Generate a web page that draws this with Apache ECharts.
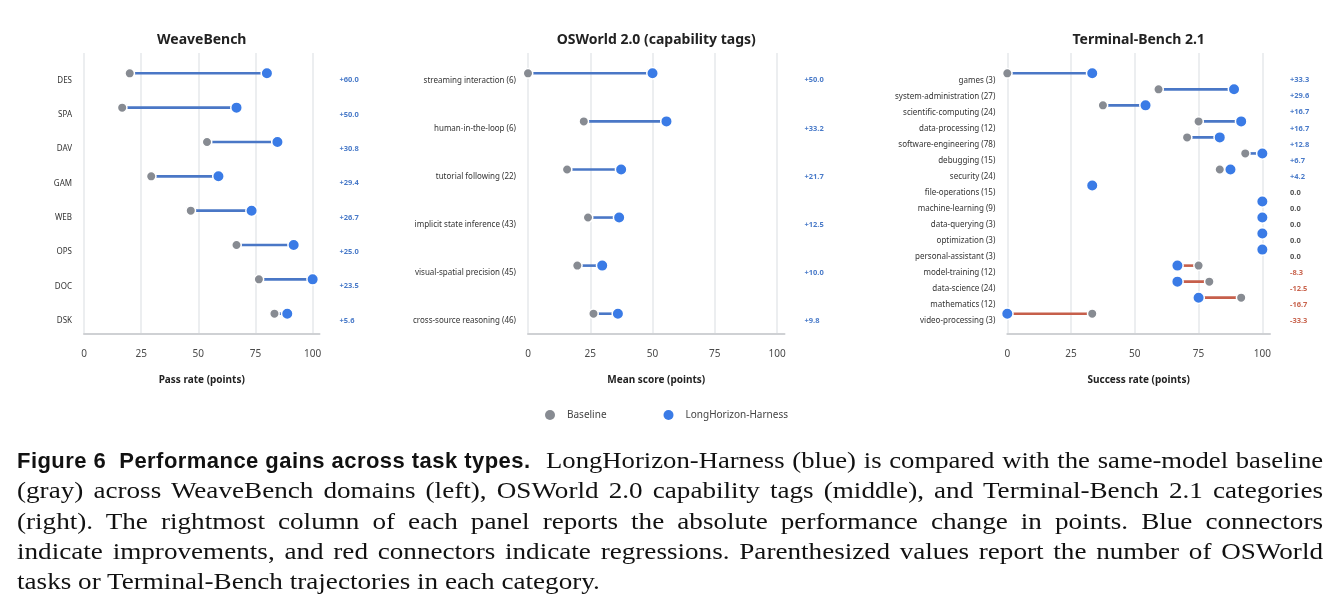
<!DOCTYPE html>
<html><head><meta charset="utf-8">
<script src="https://cdn.jsdelivr.net/npm/echarts@6/dist/echarts.min.js"></script>
<style>
html,body{margin:0;padding:0;background:#fff;}
#chart{position:absolute;left:0;top:0;width:1340px;height:604px;}
.ln{position:absolute;height:30px;line-height:30px;font-family:"Liberation Serif","DejaVu Serif",serif;font-size:23px;color:#111;
  white-space:nowrap;text-align:justify;text-align-last:justify;transform-origin:0 0;transform:scaleX(1.18);}
.ln.first{transform:scaleX(1.16);}
.ln.last{text-align-last:left;}
.bd{position:absolute;height:30px;line-height:30px;font-family:"Liberation Sans","DejaVu Sans",sans-serif;font-weight:bold;font-size:22px;
  letter-spacing:0.45px;color:#111;white-space:nowrap;}
</style></head>
<body><div id="chart"></div>
<div class="bd" style="left:17px;top:446px;">Figure 6&nbsp;&nbsp;Performance gains across task types.</div>
<div class="ln first" style="left:546px;top:446px;width:670px;">LongHorizon-Harness (blue) is compared with the same-model baseline</div>
<div class="ln" style="left:17px;top:476.3px;width:1106.8px;">(gray) across WeaveBench domains (left), OSWorld 2.0 capability tags (middle), and Terminal-Bench 2.1 categories</div>
<div class="ln" style="left:17px;top:506.6px;width:1106.8px;">(right). The rightmost column of each panel reports the absolute performance change in points. Blue connectors</div>
<div class="ln" style="left:17px;top:536.9px;width:1106.8px;">indicate improvements, and red connectors indicate regressions. Parenthesized values report the number of OSWorld</div>
<div class="ln last" style="left:17px;top:567.2px;width:1106.8px;">tasks or Terminal-Bench trajectories in each category.</div>
<script>
// ---- data ----
const wbCats = ['DES','SPA','DAV','GAM','WEB','OPS','DOC','DSK'];
const wbBase = [20.0,16.7,53.8,29.4,46.7,66.7,76.5,83.3];
const wbLH   = [80.0,66.7,84.6,58.8,73.3,91.7,100.0,88.9];
const wbDelta = ['+60.0','+50.0','+30.8','+29.4','+26.7','+25.0','+23.5','+5.6'];

const osCats = ['streaming interaction (6)','human-in-the-loop (6)','tutorial following (22)','implicit state inference (43)','visual-spatial precision (45)','cross-source reasoning (46)'];
const osBase = [0.0,22.4,15.7,24.1,19.8,26.3];
const osLH   = [50.0,55.6,37.4,36.6,29.8,36.1];
const osDelta = ['+50.0','+33.2','+21.7','+12.5','+10.0','+9.8'];

const tbCats = ['games (3)','system-administration (27)','scientific-computing (24)','data-processing (12)','software-engineering (78)','debugging (15)','security (24)','file-operations (15)','machine-learning (9)','data-querying (3)','optimization (3)','personal-assistant (3)','model-training (12)','data-science (24)','mathematics (12)','video-processing (3)'];
const tbBase = [0.0,59.3,37.5,75.0,70.5,93.3,83.3,33.3,100,100,100,100,75.0,79.2,91.7,33.3];
const tbLH   = [33.3,88.9,54.2,91.7,83.3,100,87.5,33.3,100,100,100,100,66.7,66.7,75.0,0.0];
const tbDelta = ['+33.3','+29.6','+16.7','+16.7','+12.8','+6.7','+4.2','0.0','0.0','0.0','0.0','0.0','-8.3','-12.5','-16.7','-33.3'];

const xTicks = [0,25,50,75,100];
const titles = ['WeaveBench','OSWorld 2.0 (capability tags)','Terminal-Bench 2.1'];
const xNames = ['Pass rate (points)','Mean score (points)','Success rate (points)'];
const seriesNames = ['Baseline','LongHorizon-Harness'];

// ---- layout / style ----
const FONT = '"Noto Sans", "Open Sans", sans-serif';
const C_GRAY = '#878b92', C_BLUE = '#3a7be6', C_LINE_B = '#4a77c6', C_LINE_R = '#c65f4b';
const C_TXT_B = '#4a7bc9', C_TXT_R = '#c9654f', C_TXT_0 = '#555';
const panels = [
  {cats: wbCats, base: wbBase, lh: wbLH, delta: wbDelta, left: 84, width: 235.5},
  {cats: osCats, base: osBase, lh: osLH, delta: osDelta, left: 528, width: 256.5},
  {cats: tbCats, base: tbBase, lh: tbLH, delta: tbDelta, left: 1007.3, width: 262.7}
];
const XMAX = 103;
const OUT_TOP = 53, OUT_H = 280.7, IN_TOP = 73.3, IN_H = 240.4;

const grid = [], xAxis = [], yAxis = [], series = [], graphic = [];
panels.forEach((p, k) => {
  grid.push({left: p.left, top: OUT_TOP, width: p.width, height: OUT_H, outerBoundsMode: 'none'});
  grid.push({left: p.left, top: IN_TOP, width: p.width, height: IN_H, outerBoundsMode: 'none'});
  xAxis.push({
    gridIndex: 2*k, type: 'value', min: 0, max: XMAX, interval: 25,
    axisLine: {show: true, lineStyle: {color: '#cfd1d4', width: 2}},
    axisTick: {show: false},
    axisLabel: {fontSize: 10, color: '#4a4a4a', margin: 15, fontFamily: FONT,
      formatter: v => (xTicks.indexOf(v) >= 0 ? String(v) : '')},
    splitLine: {show: true, showMaxLine: false, lineStyle: {color: '#e6e8eb', width: 1.5}},
    name: xNames[k], nameLocation: 'middle', nameGap: 41,
    nameTextStyle: {fontWeight: 'bold', fontSize: 10, color: '#222', fontFamily: FONT}
  });
  xAxis.push({gridIndex: 2*k+1, type: 'value', min: 0, max: XMAX, show: false});
  yAxis.push({gridIndex: 2*k, type: 'value', show: false});
  yAxis.push({
    gridIndex: 2*k+1, type: 'category', data: p.cats, inverse: true, boundaryGap: false,
    axisLine: {show: false}, axisTick: {show: false}, splitLine: {show: false},
    axisLabel: {interval: 0, fontSize: 8, color: '#333', margin: 12, verticalAlign: 'top', lineHeight: 14, fontFamily: FONT}
  });
  yAxis.push({
    gridIndex: 2*k+1, type: 'category', data: p.cats, inverse: true, boundaryGap: false, position: 'right',
    axisLine: {show: false}, axisTick: {show: false}, splitLine: {show: false},
    axisLabel: {interval: 0, fontSize: 7.5, fontWeight: 'bold', margin: 20, verticalAlign: 'top', lineHeight: 14, fontFamily: FONT,
      formatter: (v, i) => p.delta[i],
      color: (v, i) => { const d = p.delta[i]; return d[0] === '+' ? C_TXT_B : (d[0] === '-' ? C_TXT_R : C_TXT_0); }}
  });
  const xi = 2*k+1, yi = 3*k+1;
  series.push({
    type: 'custom', xAxisIndex: xi, yAxisIndex: yi, z: 2, silent: true,
    data: p.cats.map((c, i) => [p.base[i], p.lh[i], i]),
    encode: {x: [0, 1], y: 2},
    renderItem: (params, api) => {
      const b = api.value(0), l = api.value(1), i = api.value(2);
      if (b === l) return null;
      const a = api.coord([b, i]), e = api.coord([l, i]);
      return {type: 'line', shape: {x1: a[0], y1: a[1], x2: e[0], y2: e[1]},
        style: {stroke: l > b ? C_LINE_B : C_LINE_R, lineWidth: 2.6}};
    }
  });
  series.push({
    name: seriesNames[0], type: 'scatter', xAxisIndex: xi, yAxisIndex: yi, z: 3,
    symbol: 'circle', symbolSize: 9.5,
    itemStyle: {color: C_GRAY, borderColor: '#fff', borderWidth: 1.5, opacity: 1},
    data: p.base.map((v, i) => [v, i])
  });
  series.push({
    name: seriesNames[1], type: 'scatter', xAxisIndex: xi, yAxisIndex: yi, z: 4,
    symbol: 'circle', symbolSize: 11.5,
    itemStyle: {color: C_BLUE, borderColor: '#fff', borderWidth: 1.5, opacity: 1},
    data: p.lh.map((v, i) => [v, i])
  });
  graphic.push({type: 'text', x: p.left + p.width/2, y: 40,
    style: {text: titles[k], fontSize: 14, fontWeight: 'bold', fontFamily: FONT, fill: '#222', align: 'center', verticalAlign: 'middle'}});
});

const chart = echarts.init(document.getElementById('chart'), null, {renderer: 'canvas'});
chart.setOption({
  animation: false,
  backgroundColor: '#fff',
  textStyle: {fontFamily: FONT},
  grid, xAxis, yAxis, series, graphic,
  legend: {
    data: seriesNames, left: 540, top: 405, itemWidth: 24, itemHeight: 10, itemGap: 57,
    icon: 'circle', itemStyle: {borderWidth: 0},
    textStyle: {fontSize: 10, color: '#444', fontFamily: FONT}
  }
});
</script>
</body></html>
